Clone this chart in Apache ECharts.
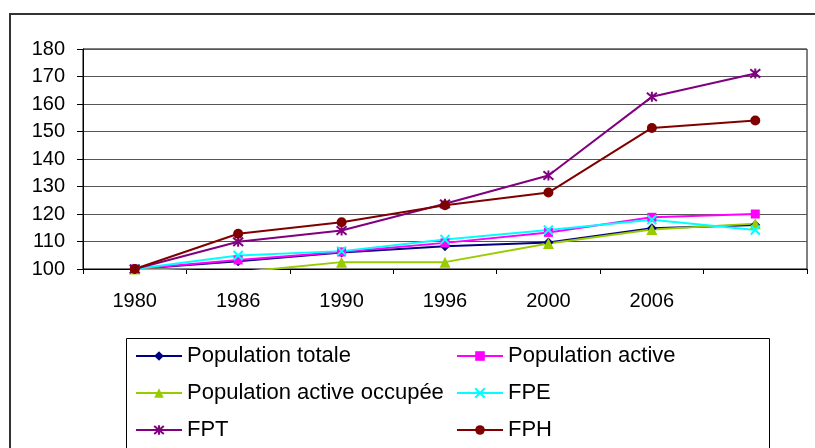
<!DOCTYPE html>
<html>
<head>
<meta charset="utf-8">
<script src="https://cdn.jsdelivr.net/npm/echarts@6/dist/echarts.min.js"></script>
<style>
  html, body { margin: 0; padding: 0; background: #fff; }
  #chart { width: 815px; height: 448px; }
</style>
</head>
<body>
<div id="chart"></div>
<script>
// categories (last point has no label)
const years = ['1980', '1986', '1990', '1996', '2000', '2006', ''];

// index values, 1980 = 100
const populationTotale   = [100, 102.8, 106.0, 108.3, 109.6, 114.8, 116.0];
const populationActive   = [100, 103.3, 106.2, 109.5, 113.3, 118.8, 120.0];
const populationOccupee  = [100, 98.8, 102.5, 102.5, 109.3, 114.4, 116.5];
const fpe                = [100, 104.9, 106.5, 110.7, 114.2, 117.9, 114.2];
const fpt                = [100, 109.9, 114.0, 123.7, 134.0, 162.6, 171.1];
const fph                = [100, 112.8, 117.0, 123.2, 127.8, 151.3, 154.0];

const yTicks = { min: 100, max: 180, step: 10 };

const CROSS = 'path://M0,0L10,10M10,0L0,10';
const STAR = 'path://M0,0L10,10M10,0L0,10M5,-1L5,11';

function lineSeries(name, data, color, symbol, size, stroked) {
  return {
    name: name,
    type: 'line',
    data: data,
    symbol: symbol,
    symbolSize: size,
    showSymbol: true,
    animation: false,
    lineStyle: { color: color, width: 2 },
    itemStyle: stroked
      ? { color: color, borderColor: color, borderWidth: 2 }
      : { color: color, borderWidth: 0 }
  };
}

const legendText = { fontFamily: 'Liberation Sans, Arial', fontSize: 22, color: '#000', lineHeight: 22 };

const chart = echarts.init(document.getElementById('chart'));

chart.setOption({
  animation: false,
  graphic: [
    {
      type: 'rect',
      shape: { x: 10, y: 14, width: 830, height: 460 },
      style: { fill: 'none', stroke: '#333', lineWidth: 2 },
      silent: true
    },
    {
      type: 'rect',
      shape: { x: 126.5, y: 338.5, width: 643, height: 130 },
      style: { fill: 'none', stroke: '#000', lineWidth: 1 },
      silent: true
    }
  ],
  grid: {
    left: 83,
    top: 49,
    right: 8,
    bottom: 179,
    show: true,
    borderColor: '#000',
    borderWidth: 1
  },
  legend: [
    {
      orient: 'vertical',
      left: 135,
      top: 345,
      padding: 0,
      itemWidth: 46,
      itemHeight: 12,
      itemGap: 15,
      textStyle: legendText,
      data: ['Population totale', 'Population active occupée', 'FPT']
    },
    {
      orient: 'vertical',
      left: 456,
      top: 345,
      padding: 0,
      itemWidth: 46,
      itemHeight: 12,
      itemGap: 15,
      textStyle: legendText,
      data: ['Population active', 'FPE', 'FPH']
    }
  ],
  xAxis: {
    type: 'category',
    data: years,
    boundaryGap: true,
    axisLine: { lineStyle: { color: '#000', width: 1 } },
    axisTick: { show: true, length: 5, lineStyle: { color: '#000' } },
    axisLabel: {
      margin: 22,
      fontFamily: 'Liberation Sans, Arial',
      fontSize: 20,
      color: '#000'
    },
    splitLine: { show: false }
  },
  yAxis: {
    type: 'value',
    min: yTicks.min,
    max: yTicks.max,
    interval: yTicks.step,
    axisLine: { show: true, lineStyle: { color: '#000', width: 1 } },
    axisTick: { show: true, length: 6, lineStyle: { color: '#000' } },
    axisLabel: {
      margin: 18,
      fontFamily: 'Liberation Sans, Arial',
      fontSize: 20,
      color: '#000'
    },
    splitLine: { show: true, lineStyle: { color: '#555', width: 1 } }
  },
  series: [
    lineSeries('Population totale', populationTotale, '#000080', 'diamond', 10, false),
    lineSeries('Population active', populationActive, '#FF00FF', 'rect', 9, false),
    lineSeries('Population active occupée', populationOccupee, '#99CC00', 'triangle', 11, false),
    lineSeries('FPE', fpe, '#00FFFF', CROSS, 9, true),
    lineSeries('FPT', fpt, '#800080', STAR, 10, true),
    lineSeries('FPH', fph, '#800000', 'circle', 10, false)
  ]
});
</script>
</body>
</html>
